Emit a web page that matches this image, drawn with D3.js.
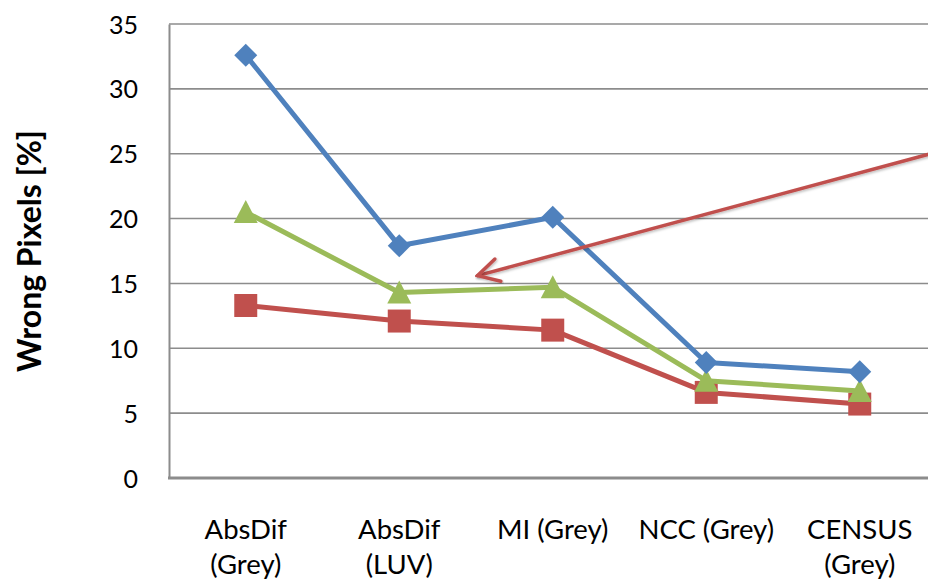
<!DOCTYPE html>
<html>
<head>
<meta charset="utf-8">
<script src="https://cdn.jsdelivr.net/npm/d3@7"></script>
<style>
  html, body { margin: 0; padding: 0; background: #fff; }
  svg { display: block; }
  text { font-family: Lato, "Open Sans", "Noto Sans", sans-serif; fill: #000; }
</style>
</head>
<body>
<svg id="chart" width="928" height="580"></svg>
<script>
// Matching methods (two-line labels)
const categories = [
  ["AbsDif", "(Grey)"],
  ["AbsDif", "(LUV)"],
  ["MI (Grey)"],
  ["NCC (Grey)"],
  ["CENSUS", "(Grey)"]
];
// Wrong pixels [%] per method
const seriesBlue  = [32.6, 17.9, 20.1, 8.9, 8.2];
const seriesRed   = [13.3, 12.1, 11.4, 6.6, 5.7];
const seriesGreen = [20.5, 14.3, 14.7, 7.5, 6.7];
const yTicks = [0, 5, 10, 15, 20, 25, 30, 35];
// Pointer annotation, in category-index / value units: [tail, head]
const pointer = [[4.62, 25.5], [1.51, 15.6]];

const svg = d3.select("#chart");
const plotLeft = 169, plotTop = 24, plotBottom = 478, plotRight = 928;
const step = 153.5;

const x = d3.scaleLinear().domain([0, 1]).range([plotLeft + step / 2, plotLeft + step * 1.5]);
const y = d3.scaleLinear().domain([0, 35]).range([plotBottom, plotTop]);

// Horizontal gridlines
svg.append("g")
  .selectAll("line")
  .data(yTicks.filter(d => d > 0))
  .join("line")
  .attr("x1", plotLeft).attr("x2", plotRight)
  .attr("y1", d => y(d)).attr("y2", d => y(d))
  .attr("stroke", "#8c8c8c").attr("stroke-width", 1.6);

// Y axis
const yAxis = d3.axisLeft(y).tickValues(yTicks).tickSize(0).tickPadding(31);
const gy = svg.append("g").attr("transform", `translate(${plotLeft},0)`).call(yAxis);
gy.select(".domain").attr("stroke", "#8c8c8c").attr("stroke-width", 2);
gy.selectAll("text")
  .style("font-family", "Lato, 'Open Sans', sans-serif")
  .attr("font-size", 25).attr("fill", "#000").attr("dy", "0.36em");

// X axis baseline
svg.append("line")
  .attr("x1", plotLeft - 1).attr("x2", plotRight)
  .attr("y1", plotBottom).attr("y2", plotBottom)
  .attr("stroke", "#8c8c8c").attr("stroke-width", 3);

// Category labels
const xl = svg.append("g");
categories.forEach((lines, i) => {
  const t = xl.append("text")
    .attr("x", x(i)).attr("y", 539)
    .attr("text-anchor", "middle").attr("font-size", 27.5);
  lines.forEach((ln, j) => {
    t.append("tspan").attr("x", x(i)).attr("dy", j === 0 ? 0 : 35).text(ln);
  });
});

// Y axis title
svg.append("text")
  .attr("transform", `translate(41,${(plotTop + plotBottom) / 2}) rotate(-90)`)
  .attr("text-anchor", "middle")
  .attr("font-size", 32).attr("font-weight", "bold")
  .text("Wrong Pixels [%]");

const line = d3.line().x((d, i) => x(i)).y(d => y(d));

// Marker shapes, centred on the data point
const markers = {
  diamond: "M0,-11.5L11.5,0L0,11.5L-11.5,0Z",
  square: "M-11.5,-11.5H11.5V11.5H-11.5Z",
  triangle: "M0,-12L12,11L-12,11Z"
};

function drawSeries(values, color, shape) {
  const g = svg.append("g");
  g.append("path").datum(values)
    .attr("d", line).attr("fill", "none")
    .attr("stroke", color).attr("stroke-width", 5)
    .attr("stroke-linejoin", "round");
  g.selectAll("path.m").data(values).join("path")
    .attr("class", "m")
    .attr("transform", (d, i) => `translate(${x(i)},${y(d)})`)
    .attr("d", markers[shape])
    .attr("fill", color);
}

drawSeries(seriesRed, "#c0504d", "square");
drawSeries(seriesGreen, "#9bbb59", "triangle");
drawSeries(seriesBlue, "#4f81bd", "diamond");

// Soft shadow for the pointer
svg.append("defs").append("filter").attr("id", "shadow")
  .append("feDropShadow").attr("dx", 1).attr("dy", 1.5)
  .attr("stdDeviation", 1).attr("flood-color", "#000").attr("flood-opacity", 0.25);

const [tail, head] = pointer;
svg.append("line")
  .attr("x1", x(tail[0])).attr("y1", y(tail[1]))
  .attr("x2", x(head[0])).attr("y2", y(head[1]))
  .attr("stroke", "#c0504d").attr("stroke-width", 3.5)
  .attr("stroke-linecap", "round")
  .attr("filter", "url(#shadow)");

// Open arrowhead drawn as two barbs
const ang = Math.atan2(y(tail[1]) - y(head[1]), x(tail[0]) - x(head[0]));
const hx = x(head[0]), hy = y(head[1]);
const barb = 24, spread = 0.5;
const barbs = [ang - spread, ang + spread].map(a => [hx + barb * Math.cos(a), hy + barb * Math.sin(a)]);
svg.append("path")
  .attr("d", `M${barbs[0][0]},${barbs[0][1]} L${hx},${hy} L${barbs[1][0]},${barbs[1][1]}`)
  .attr("fill", "none").attr("stroke", "#c0504d").attr("stroke-width", 3.5)
  .attr("stroke-linecap", "round").attr("stroke-linejoin", "miter")
  .attr("filter", "url(#shadow)");
</script>
</body>
</html>
